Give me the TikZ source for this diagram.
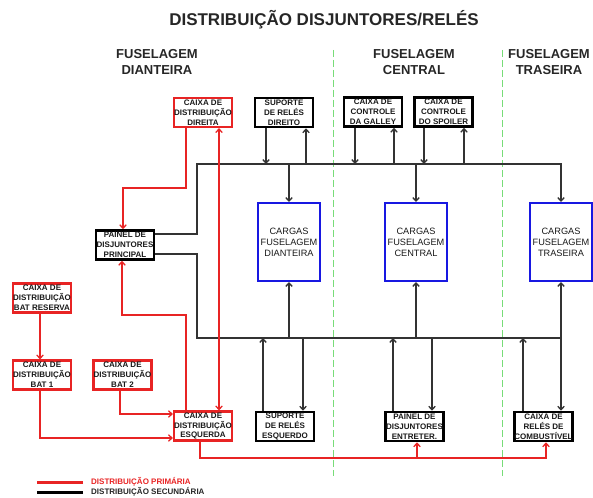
\documentclass[tikz,border=0pt]{standalone}
\usepackage{fontspec}
\setmainfont{Liberation Sans}
\usetikzlibrary{arrows,arrows.meta,positioning}
\definecolor{primred}{RGB}{232,36,36}
\definecolor{cargblue}{RGB}{24,24,225}
\definecolor{zonegreen}{RGB}{120,220,120}
\tikzset{>={Straight Barb[length=3.5pt,width=6.5pt]},
         every node/.style={inner sep=0pt, align=center}}
\tikzstyle{caixa}=[draw=primred, line width=2.2pt, minimum width=58pt,
   minimum height=29pt, text=black!90,
   font=\fontsize{8}{9.8}\selectfont\bfseries]
\tikzstyle{suporte}=[caixa, draw=black, line width=2.6pt]
\tikzstyle{cargas}=[draw=cargblue, line width=2pt, minimum width=62pt,
   minimum height=78pt, text=black!90, font=\fontsize{9.2}{11}\selectfont]
\tikzstyle{zonatit}=[font=\fontsize{13}{16}\selectfont\bfseries, text=black!85]
\tikzstyle{prim}=[draw=primred, line width=1.3pt]
\tikzstyle{sec}=[draw=black!80, line width=1.3pt]
\tikzstyle{zona}=[draw=zonegreen, line width=0.9pt, dash pattern=on 7pt off 3pt]
\tikzstyle{legenda}=[font=\fontsize{8}{9}\selectfont\bfseries, anchor=west]

\begin{document}
\begin{tikzpicture}[x=1pt,y=-1pt]
   \useasboundingbox (0,0) rectangle (593,497);
   \node[font=\fontsize{17}{20}\selectfont\bfseries, text=black!85] (titulo) at (324,20)
     {DISTRIBUIÇÃO DISJUNTORES/RELÉS};
   \node[zonatit] (zdia) at (157,62) {FUSELAGEM\\DIANTEIRA};
   \node[zonatit] (zcen) at (414,62) {FUSELAGEM\\CENTRAL};
   \node[zonatit] (ztra) at (549,62) {FUSELAGEM\\TRASEIRA};
   \draw[zona] (333,50) -- (333,476);
   \draw[zona] (502,50) -- (502,476);

   \node[caixa]   (cxdir)   at (203,112.5) {CAIXA DE\\DISTRIBUIÇÃO\\DIREITA};
   \node[suporte] (supdir)  at (284,112.5) {SUPORTE\\DE RELÉS\\DIREITO};
   \node[suporte] (galley)  at (373,112)   {CAIXA DE\\CONTROLE\\DA GALLEY};
   \node[suporte] (spoiler) at (443.5,112) {CAIXA DE\\CONTROLE\\DO SPOILER};
   \node[cargas]  (cargdia) at (289,242)   {CARGAS\\FUSELAGEM\\DIANTEIRA};
   \node[cargas]  (cargcen) at (416,242)   {CARGAS\\FUSELAGEM\\CENTRAL};
   \node[cargas]  (cargtra) at (561,242)   {CARGAS\\FUSELAGEM\\TRASEIRA};
   \node[suporte] (painel)  at (125,245)   {PAINEL DE\\DISJUNTORES\\PRINCIPAL};
   \node[caixa]   (batres)  at (42,298)    {CAIXA DE\\DISTRIBUIÇÃO\\BAT RESERVA};
   \node[caixa]   (bat1)    at (42,375)    {CAIXA DE\\DISTRIBUIÇÃO\\BAT 1};
   \node[caixa]   (bat2)    at (122.5,375) {CAIXA DE\\DISTRIBUIÇÃO\\BAT 2};
   \node[caixa]   (cxesq)   at (203,426)   {CAIXA DE\\DISTRIBUIÇÃO\\ESQUERDA};
   \node[suporte] (supesq)  at (285,426.5) {SUPORTE\\DE RELÉS\\ESQUERDO};
   \node[suporte] (entret)  at (414.5,426.5) {PAINEL DE\\DISJUNTORES\\ENTRETER.};
   \node[suporte] (combust) at (543.5,426.5) {CAIXA DE\\RELÉS DE\\COMBUSTÍVEL};

   \coordinate (bt) at (197,164);
   \coordinate (bb) at (197,338);
   \draw[sec,->] ([yshift=11pt]painel.east) -| (bt) -| (cargtra.north);
   \draw[sec] ([yshift=-9pt]painel.east) -| (bb) -- (bb -| cargtra.south);
   \draw[sec,<->] (cargtra.south) -- (cargtra.south |- combust.north);
   \draw[sec,->] (cargdia.north |- bt) -- (cargdia.north);
   \draw[sec,->] (cargcen.north |- bt) -- (cargcen.north);
   \draw[sec,->] (cargdia.south |- bb) -- (cargdia.south);
   \draw[sec,->] (cargcen.south |- bb) -- (cargcen.south);
   \foreach \no/\xa/\xb in {supdir/266/306, galley/355/394, spoiler/424/464} {
     \draw[sec,->] (\xa,0 |- \no.south) -- (\xa,0 |- bt);
     \draw[sec,->] (\xb,0 |- bt) -- (\xb,0 |- \no.south);
   }
   \foreach \no/\xa/\xb in {supesq/263/303, entret/393/432} {
     \draw[sec,->] (\xa,0 |- \no.north) -- (\xa,0 |- bb);
     \draw[sec,->] (\xb,0 |- bb) -- (\xb,0 |- \no.north);
   }
   \draw[sec,->] (523,0 |- combust.north) -- (523,0 |- bb);

   \draw[prim,->] (186,0 |- cxdir.south) -- (186,188) -| (123,0 |- painel.north);
   \draw[prim,->] (186,0 |- cxesq.north) -- (186,315) -| (122,0 |- painel.south);
   \draw[prim,<->] (219,0 |- cxdir.south) -- (219,0 |- cxesq.north);
   \draw[prim,->] (40,0 |- batres.south) -- (40,0 |- bat1.north);
   \draw[prim,->] (40,0 |- bat1.south) |- (cxesq.west |- 0,438);
   \draw[prim,->] (120,0 |- bat2.south) |- (cxesq.west |- 0,414);
   \draw[prim,->] (200,0 |- cxesq.south) -- (200,458) -| (546,0 |- combust.south);
   \draw[prim,->] (417,458) -- (417,0 |- entret.south);

   \node[legenda, text=primred] (legprim) at (91,482) {DISTRIBUIÇÃO PRIMÁRIA};
   \node[legenda, text=black!85] (legsec) at (91,492) {DISTRIBUIÇÃO SECUNDÁRIA};
   \draw[prim, line width=3pt] ([xshift=-8pt]legprim.west) -- ++(-46,0);
   \draw[sec, draw=black, line width=3pt] ([xshift=-8pt]legsec.west) -- ++(-46,0);
\end{tikzpicture}
\end{document}
